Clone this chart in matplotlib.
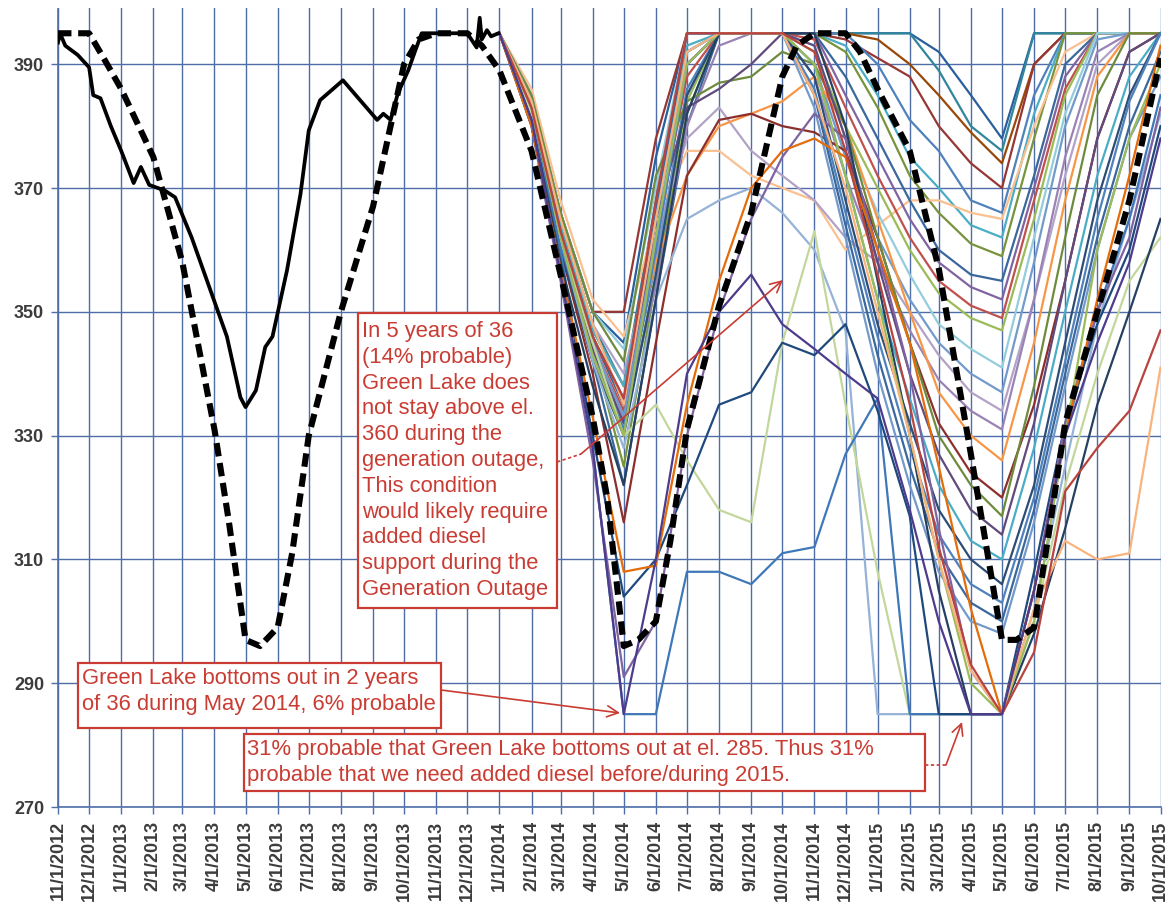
import matplotlib
matplotlib.use("Agg")
import matplotlib.pyplot as plt
from matplotlib.lines import Line2D
from matplotlib.patches import Rectangle, FancyArrowPatch
import pandas as pd

# ---------------- data ----------------
hist_dates = ["2012-11-01", "2012-11-03", "2012-11-08", "2012-11-20", "2012-12-01", "2012-12-05",
              "2012-12-12", "2012-12-22", "2013-01-01", "2013-01-13", "2013-01-20", "2013-01-28",
              "2013-02-12", "2013-02-22", "2013-03-10", "2013-03-27", "2013-04-13", "2013-04-26",
              "2013-05-01", "2013-05-11", "2013-05-20", "2013-05-27", "2013-06-10", "2013-06-23",
              "2013-07-01", "2013-07-12", "2013-08-03", "2013-09-05", "2013-09-11", "2013-09-18",
              "2013-09-25", "2013-10-05", "2013-10-12", "2013-10-18", "2013-12-01", "2013-12-10",
              "2013-12-13", "2013-12-15", "2013-12-20", "2013-12-24", "2013-12-31"]
hist_elev = [393.5, 395.0, 393.0, 391.5, 389.5, 385.0, 384.5, 380.0, 376.0, 370.8, 373.4, 370.5,
             369.6, 368.5, 362.0, 354.0, 346.0, 336.2, 334.6, 337.3, 344.3, 346.0, 356.7, 369.0,
             379.3, 384.2, 387.4, 381.0, 382.0, 381.0, 385.3, 389.0, 392.3, 395.0, 395.0, 392.7,
             397.5, 394.0, 395.5, 394.5, 395.0]

rule_dates = ["2012-11-01", "2012-12-01", "2012-12-15", "2013-01-01", "2013-02-01", "2013-03-01",
              "2013-04-01", "2013-04-15", "2013-05-01", "2013-05-15", "2013-06-01", "2013-06-15",
              "2013-07-01", "2013-08-01", "2013-09-01", "2013-10-01", "2013-10-15", "2013-11-01",
              "2013-12-01", "2013-12-15", "2014-01-01", "2014-02-01", "2014-03-01", "2014-04-01",
              "2014-04-15", "2014-05-01", "2014-05-15", "2014-06-01", "2014-06-15", "2014-07-01",
              "2014-08-01", "2014-09-01", "2014-10-01", "2014-10-15", "2014-11-01", "2014-12-01",
              "2014-12-15", "2015-01-01", "2015-02-01", "2015-03-01", "2015-04-01", "2015-04-15",
              "2015-05-01", "2015-05-15", "2015-06-01", "2015-06-15", "2015-07-01", "2015-08-01",
              "2015-09-01", "2015-10-01"]
rule_elev = [395, 395, 391, 386, 375, 358, 331, 316, 297, 296, 299, 311, 330, 350, 367, 390, 394, 395,
             395, 393, 389, 376, 356, 333, 320, 296, 297, 300, 313, 331, 351, 366, 388, 393, 395, 395,
             392, 386, 376, 357, 327, 313, 297, 297, 299, 314, 332, 350, 368, 391]

scen_dates = pd.date_range("2014-01-01", "2015-10-01", freq="MS")

a01 = [395, 385, 366, 350, 345, 375, 395, 395, 395, 395, 395, 395, 395, 395, 392, 385, 378, 395, 395, 395, 395, 395]
a02 = [395, 384, 365, 348, 338, 368, 392, 395, 395, 395, 395, 395, 395, 395, 389, 380, 376, 395, 395, 395, 395, 395]
a03 = [395, 383, 364, 346, 335, 362, 390, 395, 395, 395, 395, 395, 394, 390, 385, 379, 374, 390, 395, 395, 395, 395]
a04 = [395, 384, 366, 350, 350, 378, 395, 395, 395, 395, 395, 394, 391, 388, 380, 374, 370, 390, 395, 395, 395, 395]
a05 = [395, 382, 362, 345, 333, 358, 386, 395, 395, 395, 395, 395, 390, 381, 376, 368, 366, 385, 395, 395, 395, 395]
a06 = [395, 383, 363, 346, 336, 365, 393, 395, 395, 395, 395, 393, 385, 375, 370, 364, 362, 382, 395, 395, 395, 395]
a07 = [395, 382, 361, 344, 325, 355, 382, 395, 395, 395, 395, 392, 383, 372, 366, 361, 359, 378, 395, 395, 395, 395]
a08 = [395, 386, 368, 352, 346, 365, 376, 376, 372, 370, 368, 360, 364, 368, 368, 366, 365, 380, 392, 395, 395, 395]
a09 = [395, 381, 360, 342, 322, 352, 380, 395, 395, 395, 395, 388, 378, 368, 360, 356, 355, 372, 390, 395, 395, 395]
a10 = [395, 382, 361, 343, 332, 360, 390, 395, 395, 395, 395, 385, 375, 365, 358, 354, 352, 370, 388, 395, 395, 395]
a11 = [395, 383, 363, 345, 334, 362, 388, 395, 395, 395, 394, 383, 372, 362, 355, 351, 349, 368, 386, 395, 395, 395]
a12 = [395, 382, 362, 344, 331, 356, 384, 395, 395, 395, 392, 380, 370, 360, 353, 349, 347, 365, 385, 395, 395, 395]
a13 = [395, 384, 365, 348, 340, 362, 378, 383, 376, 372, 368, 362, 358, 350, 343, 337, 334, 352, 372, 390, 395, 395]
a14 = [395, 385, 366, 350, 344, 370, 395, 395, 395, 395, 393, 378, 366, 356, 348, 344, 341, 362, 382, 395, 395, 395]
a15 = [395, 383, 363, 346, 336, 358, 385, 395, 395, 395, 390, 375, 362, 352, 345, 340, 337, 358, 380, 394, 395, 395]
a16 = [395, 382, 362, 345, 333, 354, 380, 393, 395, 395, 388, 372, 358, 347, 339, 334, 331, 352, 375, 392, 395, 395]

b01 = [395, 384, 364, 347, 338, 358, 372, 380, 382, 384, 388, 380, 365, 350, 337, 330, 326, 345, 368, 388, 395, 395]
b02 = [395, 382, 360, 340, 316, 345, 372, 381, 382, 380, 379, 376, 362, 345, 332, 324, 320, 335, 355, 378, 392, 395]
b03 = [395, 385, 366, 350, 342, 372, 384, 387, 388, 392, 390, 380, 362, 345, 330, 322, 317, 338, 362, 385, 395, 395]
b04 = [395, 382, 361, 344, 332, 365, 383, 386, 390, 395, 393, 378, 358, 340, 327, 318, 314, 332, 355, 378, 392, 395]
b05 = [395, 384, 364, 347, 338, 365, 392, 395, 395, 395, 390, 372, 352, 336, 322, 313, 310, 328, 350, 372, 388, 395]
b06 = [395, 381, 360, 342, 330, 356, 385, 395, 395, 395, 388, 368, 348, 332, 318, 310, 306, 322, 345, 368, 385, 395]
b07 = [395, 382, 361, 343, 331, 360, 390, 395, 395, 395, 386, 366, 346, 328, 314, 306, 303, 320, 342, 365, 384, 395]
b08 = [395, 383, 363, 346, 335, 366, 395, 395, 395, 395, 385, 364, 343, 325, 311, 303, 300, 318, 340, 362, 380, 392]
b09 = [395, 382, 362, 345, 333, 362, 392, 395, 395, 395, 383, 362, 340, 322, 308, 300, 298, 316, 338, 360, 378, 388]

c01 = [395, 384, 362, 342, 328, 352, 365, 368, 370, 366, 360, 347, 285, 285, 285, 285, 285, 302, 325, 348, 365, 382]
c02 = [395, 382, 362, 345, 330, 335, 326, 318, 316, 345, 363, 335, 308, 285, 285, 285, 285, 300, 322, 340, 355, 362]
c03 = [395, 383, 360, 328, 285, 285, 308, 308, 306, 311, 312, 327, 336, 285, 285, 285, 285, 305, 330, 350, 365, 385]
c04 = [395, 381, 358, 330, 304, 310, 322, 335, 337, 345, 343, 348, 334, 317, 285, 285, 285, 308, 332, 348, 360, 380]
c05 = [395, 380, 355, 326, 291, 300, 330, 350, 365, 375, 382, 378, 360, 340, 315, 292, 285, 305, 332, 350, 362, 383]
c06 = [395, 380, 358, 338, 322, 352, 382, 395, 395, 395, 395, 380, 355, 330, 305, 285, 285, 298, 315, 335, 350, 365]
c07 = [395, 383, 362, 343, 330, 362, 390, 395, 395, 395, 390, 372, 352, 330, 310, 290, 285, 300, 330, 360, 378, 390]
c08 = [395, 380, 357, 333, 308, 309, 335, 355, 370, 376, 378, 375, 360, 345, 325, 302, 285, 305, 330, 352, 372, 393]
c09 = [395, 384, 365, 348, 335, 365, 392, 395, 395, 395, 385, 370, 350, 330, 310, 292, 285, 302, 313, 310, 311, 341]
c10 = [395, 383, 363, 346, 336, 368, 395, 395, 395, 395, 392, 376, 356, 335, 312, 293, 285, 295, 321, 328, 334, 347]
c11 = [395, 381, 356, 328, 285, 310, 340, 350, 356, 348, 344, 340, 336, 318, 300, 285, 285, 305, 330, 345, 358, 378]

y_ticks = [270, 290, 310, 330, 350, 370, 390]
month_ticks = pd.date_range("2012-11-01", "2015-10-01", freq="MS")
month_labels = [f"{d.month}/{d.day}/{d.year}" for d in month_ticks]

note_outage = ("In 5 years of 36\n(14% probable)\nGreen Lake does\nnot stay above el.\n"
               "360 during the\ngeneration outage,\nThis condition\nwould likely require\n"
               "added diesel\nsupport during the\nGeneration Outage")
note_2014 = "Green Lake bottoms out in 2 years\nof 36 during May 2014, 6% probable"
note_2015 = ("31% probable that Green Lake bottoms out at el. 285. Thus 31%\n"
             "probable that we need added diesel before/during 2015.")

# ---------------- styles ----------------
scenarios = [a01, a02, a03, a04, a05, a06, a07, a08, a09, a10, a11, a12, a13, a14, a15, a16,
             b01, b02, b03, b04, b05, b06, b07, b08, b09,
             c01, c02, c03, c04, c05, c06, c07, c08, c09, c10, c11]
scen_colors = ["#2A5F9E", "#31859C", "#984807", "#953735", "#4F81BD", "#4BACC6", "#77933C", "#FAC090",
               "#3A679C", "#8064A2", "#C0504D", "#9BBB59", "#B2A2C7", "#93CDDD", "#729ACA", "#9983B5",
               "#F79646", "#8B2F2C", "#6E8B3D", "#604A7B", "#4BACC6", "#2C4D75", "#4F81BD", "#3A679C",
               "#729ACA",
               "#95B3D7", "#C3D69B", "#3F78B8", "#1F497D", "#7F63A1", "#254061", "#9BBB59", "#E46C0A",
               "#F9B47E", "#B8433F", "#4D3B8C"]

W, H = 1173, 907
RED = "#C93C33"
GRID = "#4F6EA8"
LABEL = "#3C3C3C"

plt.rcParams["font.family"] = ["Liberation Sans", "DejaVu Sans"]

fig = plt.figure(figsize=(W / 100, H / 100), dpi=100)
ax = fig.add_axes([58 / W, 1 - 807 / H, (1160.5 - 58) / W, (807 - 8.5) / H])

for vals, col in zip(scenarios, scen_colors):
    ax.plot(scen_dates, vals, color=col, lw=1.6, solid_joinstyle="round", zorder=3)

ax.plot(pd.to_datetime(rule_dates), rule_elev, color="black", lw=4.4, ls=(0, (2.2, 1.1)),
        dash_capstyle="butt", zorder=5)
ax.plot(pd.to_datetime(hist_dates), hist_elev, color="black", lw=2.7, zorder=6,
        solid_joinstyle="round")

ax.set_xlim(month_ticks[0], month_ticks[-1])
ax.set_ylim(270, 399)
ax.set_xticks(month_ticks)
ax.set_xticklabels(month_labels, rotation=90, fontsize=13, fontweight="bold", color=LABEL)
ax.set_yticks(y_ticks)
ax.set_yticklabels([str(v) for v in y_ticks], fontsize=13, fontweight="bold", color=LABEL)
ax.tick_params(axis="both", direction="out", length=5, width=1, color=GRID, pad=5)
ax.grid(True, color=GRID, lw=1.0)
ax.set_axisbelow(True)
for s in ["top", "right"]:
    ax.spines[s].set_visible(False)
for s in ["left", "bottom"]:
    ax.spines[s].set_color(GRID)
    ax.spines[s].set_linewidth(1.2)


def P(x, y):
    return (x / W, 1 - y / H)


# annotation boxes (pixel extents: left, top, right, bottom) and text anchors
boxes = [((358, 313, 557, 608), note_outage, (362, 321)),
         ((78, 663, 441, 728), note_2014, (82, 668)),
         ((244, 734, 925, 791), note_2015, (247, 739))]
for (x0, y0, x1, y1), txt, (tx, ty) in boxes:
    fig.add_artist(Rectangle(P(x0, y1), (x1 - x0) / W, (y1 - y0) / H, transform=fig.transFigure,
                             fc="white", ec=RED, lw=1.6, zorder=10))
    fig.text(*P(tx, ty), txt, ha="left", va="top", fontsize=15.8, color=RED,
             linespacing=1.3, zorder=11)

arrows = [((441, 690), (620, 713)), ((581, 454), (783, 280)), ((946, 765), (962, 722))]
for a, b in arrows:
    fig.add_artist(FancyArrowPatch(P(*a), P(*b), transform=fig.transFigure, arrowstyle="->",
                                   color=RED, lw=1.2, mutation_scale=20, shrinkA=0, shrinkB=0,
                                   zorder=9))
for (xa, ya), (xb, yb) in [((557, 462), (581, 454)), ((925, 765), (946, 765))]:
    p1, p2 = P(xa, ya), P(xb, yb)
    fig.add_artist(Line2D([p1[0], p2[0]], [p1[1], p2[1]], color=RED, lw=1.2,
                          ls=(0, (2, 1.5)), transform=fig.transFigure, zorder=9))

fig.savefig("out.png", dpi=100)
